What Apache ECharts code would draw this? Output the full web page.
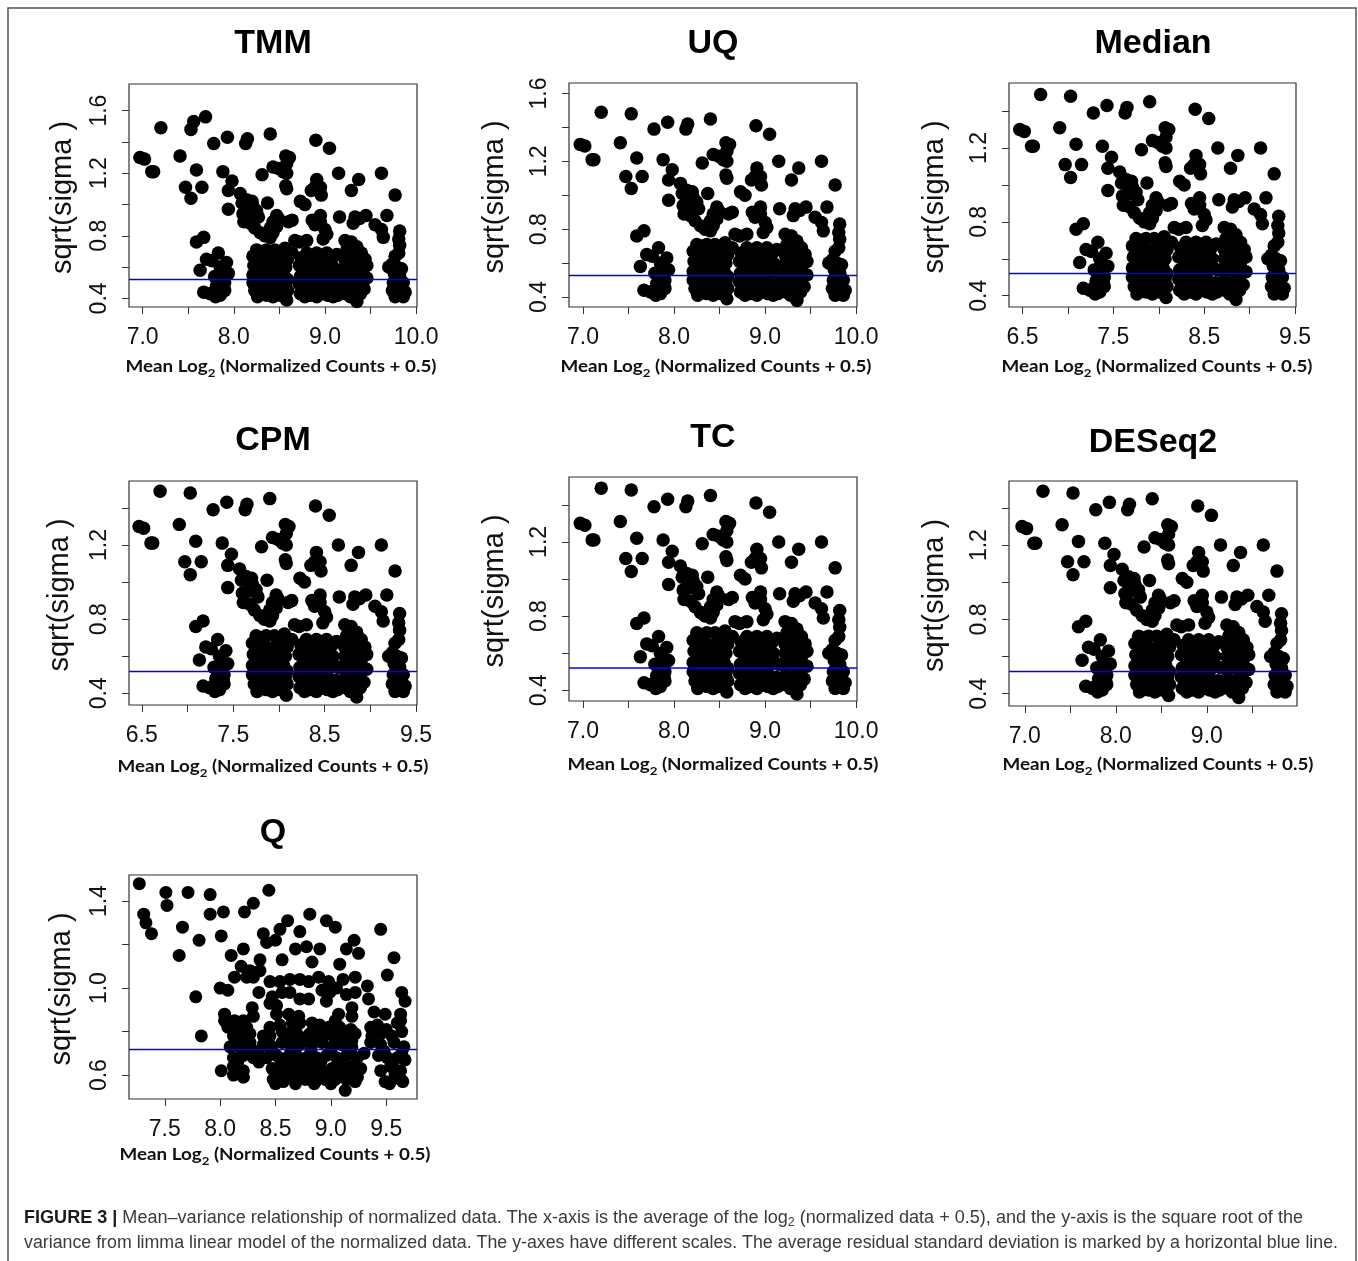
<!DOCTYPE html>
<html>
<head>
<meta charset="utf-8">
<script src="https://cdn.jsdelivr.net/npm/echarts@6/dist/echarts.min.js"></script>
<style>
  html, body { margin: 0; padding: 0; background: #fff; }
  #chart { width: 1358px; height: 1261px; }
</style>
</head>
<body>
<div id="chart"></div>
<script>
// ---- data ----
// shared pattern of UQ / TC / DESeq2 (x = mean log2, y = sqrt(sigma))
var uqPts = [
  [6.97,1.30],[7.02,1.29],[7.10,1.21],[7.12,1.21],[7.20,1.49],[7.41,1.31],[7.47,1.11],[7.53,1.04],[7.53,1.48],[7.59,1.22],
  [7.65,1.11],[7.78,1.39],[7.93,1.43],[7.88,1.21],[7.98,1.15],[7.94,1.09],[7.94,0.97],[8.07,1.07],[8.13,1.39],[8.15,1.42],
  [8.31,1.19],[8.40,1.45],[8.43,1.24],[8.49,1.23],[8.57,1.31],[8.61,1.30],[8.58,1.26],[8.54,1.21],[8.58,1.20],[8.57,1.12],
  [8.58,1.10],[8.90,1.41],[9.05,1.36],[9.15,1.20],[9.29,1.09],[9.37,1.16],[9.62,1.20],[9.77,1.06],[8.91,1.16],[8.89,1.11],
  [8.95,1.11],[8.96,1.06],[8.73,1.02],[8.78,1.00],[8.85,1.09],[8.37,1.01],
  [8.09,1.01],[8.14,1.03],[8.20,1.02],[8.21,0.99],[8.16,0.95],[8.10,0.94],[8.25,0.96],[8.27,0.92],[8.11,0.89],[8.18,0.88],
  [8.23,0.85],[8.29,0.82],[8.34,0.80],[8.40,0.79],[8.43,0.82],[8.47,0.86],[8.49,0.91],[8.43,0.89],[8.40,0.85],[8.47,0.93],
  [8.60,0.89],[8.64,0.90],[8.67,0.77],[8.72,0.76],[8.80,0.77],[8.86,0.90],[8.89,0.87],[8.95,0.89],[9.00,0.84],[9.02,0.81],
  [8.98,0.78],[8.95,0.93],[9.16,0.92],[9.33,0.92],[9.38,0.91],[9.45,0.93],[9.31,0.88],[9.55,0.87],[9.62,0.84],[9.64,0.79],
  [9.68,0.93],[9.82,0.83],[7.59,0.76],[7.67,0.79],[7.63,0.58],
  // cluster near 7.8
  [7.70,0.65],[7.76,0.64],[7.83,0.69],[7.85,0.60],[7.92,0.63],[7.94,0.56],[7.79,0.54],[7.85,0.55],[7.88,0.53],[7.81,0.48],
  [7.89,0.47],[7.78,0.44],[7.85,0.42],[7.90,0.45],[7.67,0.44],[7.74,0.43],[7.90,0.50],[7.83,0.51],[7.80,0.41],
  // cluster near 8.4
  [8.25,0.71],[8.31,0.70],[8.36,0.71],[8.45,0.71],[8.51,0.69],[8.56,0.72],[8.64,0.69],[8.59,0.65],
  [8.21,0.67],[8.28,0.65],[8.34,0.66],[8.40,0.64],[8.47,0.66],[8.54,0.64],
  [8.22,0.61],[8.27,0.59],[8.33,0.60],[8.39,0.59],[8.45,0.61],[8.51,0.59],[8.57,0.60],
  [8.21,0.55],[8.26,0.54],[8.32,0.55],[8.38,0.53],[8.44,0.55],[8.49,0.54],[8.55,0.55],[8.59,0.52],
  [8.21,0.50],[8.27,0.49],[8.33,0.50],[8.39,0.49],[8.45,0.50],[8.51,0.48],[8.57,0.49],
  [8.23,0.45],[8.29,0.44],[8.35,0.46],[8.41,0.44],[8.47,0.45],[8.53,0.44],[8.59,0.45],
  [8.26,0.41],[8.36,0.42],[8.43,0.41],[8.51,0.42],[8.58,0.39],
  // cluster near 8.9
  [8.74,0.66],[8.80,0.69],[8.86,0.66],[8.91,0.69],[8.97,0.67],[9.02,0.69],[9.08,0.66],[9.13,0.68],
  [8.72,0.61],[8.77,0.60],[8.82,0.62],[8.87,0.60],[8.93,0.62],[8.98,0.58],[9.04,0.61],[9.09,0.60],
  [8.73,0.54],[8.78,0.56],[8.82,0.52],[8.88,0.55],[8.93,0.54],[8.99,0.52],[9.04,0.53],[9.10,0.55],[9.15,0.54],
  [8.72,0.49],[8.76,0.47],[8.81,0.49],[8.86,0.45],[8.91,0.48],[8.96,0.47],[9.02,0.49],[9.07,0.44],[9.12,0.47],[9.16,0.45],
  [8.73,0.43],[8.78,0.41],[8.84,0.42],[8.91,0.41],[8.97,0.43],[9.03,0.42],[9.09,0.41],[9.14,0.42],
  // cluster near 9.3
  [9.22,0.77],[9.29,0.76],[9.35,0.73],[9.24,0.71],[9.30,0.70],[9.40,0.69],
  [9.22,0.65],[9.31,0.65],[9.37,0.64],[9.44,0.65],
  [9.22,0.60],[9.27,0.59],[9.33,0.59],[9.40,0.58],[9.46,0.61],
  [9.23,0.54],[9.29,0.54],[9.35,0.53],[9.41,0.54],[9.46,0.53],
  [9.22,0.48],[9.27,0.47],[9.33,0.47],[9.39,0.48],[9.43,0.46],
  [9.23,0.43],[9.28,0.41],[9.33,0.42],[9.35,0.38],[9.39,0.43],
  // cluster near 9.8
  [9.70,0.60],[9.74,0.62],[9.77,0.67],[9.81,0.69],[9.82,0.74],[9.81,0.78],
  [9.79,0.60],[9.84,0.59],[9.76,0.56],[9.82,0.54],[9.78,0.52],
  [9.75,0.50],[9.80,0.49],[9.86,0.50],[9.74,0.45],[9.79,0.46],[9.84,0.45],[9.88,0.44],[9.77,0.41],[9.82,0.42],[9.86,0.41]
];
// TMM has two extra high points
var tmmExtra = [[7.56,1.53],[7.69,1.56]];
var tmmPts = uqPts.concat(tmmExtra);

// Median / CPM pattern
var medianPts = [
  [6.47,1.30],[6.52,1.29],[6.60,1.21],[6.62,1.21],[6.70,1.49],[6.91,1.31],[6.97,1.11],[7.03,1.04],[7.03,1.48],[7.09,1.22],
  [7.15,1.11],[7.28,1.39],[7.43,1.43],[7.38,1.21],[7.48,1.15],[7.44,1.09],[7.44,0.97],[7.57,1.07],[7.63,1.39],[7.65,1.42],
  [7.81,1.19],[7.90,1.45],[7.93,1.24],[7.99,1.23],[8.07,1.31],[8.11,1.30],[8.08,1.26],[8.04,1.21],[8.08,1.20],[8.07,1.12],
  [8.08,1.10],[8.40,1.41],[8.55,1.36],[8.65,1.20],[8.79,1.09],[8.87,1.16],[9.12,1.20],[9.27,1.06],[8.41,1.16],[8.39,1.11],
  [8.45,1.11],[8.46,1.06],[8.23,1.02],[8.28,1.00],[8.35,1.09],[7.87,1.01],
  [7.59,1.01],[7.64,1.03],[7.70,1.02],[7.71,0.99],[7.66,0.95],[7.60,0.94],[7.75,0.96],[7.77,0.92],[7.61,0.89],[7.68,0.88],
  [7.73,0.85],[7.79,0.82],[7.84,0.80],[7.90,0.79],[7.93,0.82],[7.97,0.86],[7.99,0.91],[7.93,0.89],[7.90,0.85],[7.97,0.93],
  [8.10,0.89],[8.14,0.90],[8.17,0.77],[8.22,0.76],[8.30,0.77],[8.36,0.90],[8.39,0.87],[8.45,0.89],[8.50,0.84],[8.52,0.81],
  [8.48,0.78],[8.45,0.93],[8.66,0.92],[8.83,0.92],[8.88,0.91],[8.95,0.93],[8.81,0.88],[9.05,0.87],[9.12,0.84],[9.14,0.79],
  [9.18,0.93],[9.32,0.83],[7.09,0.76],[7.17,0.79],[7.13,0.58],
  [7.20,0.65],[7.26,0.64],[7.33,0.69],[7.35,0.60],[7.42,0.63],[7.44,0.56],[7.29,0.54],[7.35,0.55],[7.38,0.53],[7.31,0.48],
  [7.39,0.47],[7.28,0.44],[7.35,0.42],[7.40,0.45],[7.17,0.44],[7.24,0.43],[7.40,0.50],[7.33,0.51],[7.30,0.41],
  [7.75,0.71],[7.81,0.70],[7.86,0.71],[7.95,0.71],[8.01,0.69],[8.06,0.72],[8.14,0.69],[8.09,0.65],
  [7.71,0.67],[7.78,0.65],[7.84,0.66],[7.90,0.64],[7.97,0.66],[8.04,0.64],
  [7.72,0.61],[7.77,0.59],[7.83,0.60],[7.89,0.59],[7.95,0.61],[8.01,0.59],[8.07,0.60],
  [7.71,0.55],[7.76,0.54],[7.82,0.55],[7.88,0.53],[7.94,0.55],[7.99,0.54],[8.05,0.55],[8.09,0.52],
  [7.71,0.50],[7.77,0.49],[7.83,0.50],[7.89,0.49],[7.95,0.50],[8.01,0.48],[8.07,0.49],
  [7.73,0.45],[7.79,0.44],[7.85,0.46],[7.91,0.44],[7.97,0.45],[8.03,0.44],[8.09,0.45],
  [7.76,0.41],[7.86,0.42],[7.93,0.41],[8.01,0.42],[8.08,0.39],
  [8.24,0.66],[8.30,0.69],[8.36,0.66],[8.41,0.69],[8.47,0.67],[8.52,0.69],[8.58,0.66],[8.63,0.68],
  [8.22,0.61],[8.27,0.60],[8.32,0.62],[8.37,0.60],[8.43,0.62],[8.48,0.58],[8.54,0.61],[8.59,0.60],
  [8.23,0.54],[8.28,0.56],[8.32,0.52],[8.38,0.55],[8.43,0.54],[8.49,0.52],[8.54,0.53],[8.60,0.55],[8.65,0.54],
  [8.22,0.49],[8.26,0.47],[8.31,0.49],[8.36,0.45],[8.41,0.48],[8.46,0.47],[8.52,0.49],[8.57,0.44],[8.62,0.47],[8.66,0.45],
  [8.23,0.43],[8.28,0.41],[8.34,0.42],[8.41,0.41],[8.47,0.43],[8.53,0.42],[8.59,0.41],[8.64,0.42],
  [8.72,0.77],[8.79,0.76],[8.85,0.73],[8.74,0.71],[8.80,0.70],[8.90,0.69],
  [8.72,0.65],[8.81,0.65],[8.87,0.64],[8.94,0.65],
  [8.72,0.60],[8.77,0.59],[8.83,0.59],[8.90,0.58],[8.96,0.61],
  [8.73,0.54],[8.79,0.54],[8.85,0.53],[8.91,0.54],[8.96,0.53],
  [8.72,0.48],[8.77,0.47],[8.83,0.47],[8.89,0.48],[8.93,0.46],
  [8.73,0.43],[8.78,0.41],[8.83,0.42],[8.85,0.38],[8.89,0.43],
  [9.20,0.60],[9.24,0.62],[9.27,0.67],[9.31,0.69],[9.32,0.74],[9.31,0.78],
  [9.29,0.60],[9.34,0.59],[9.26,0.56],[9.32,0.54],[9.28,0.52],
  [9.25,0.50],[9.30,0.49],[9.36,0.50],[9.24,0.45],[9.29,0.46],[9.34,0.45],[9.38,0.44],[9.27,0.41],[9.32,0.42],[9.36,0.41]
];

// Q pattern
var qPts = [
  [7.27,1.48],[7.31,1.34],[7.33,1.30],[7.38,1.25],[7.51,1.44],[7.52,1.38],[7.63,1.15],[7.66,1.28],[7.71,1.44],[7.78,0.96],
  [7.81,1.22],[7.83,0.78],
  [7.91,1.43],[7.91,1.34],[8.03,1.35],[8.22,1.35],[8.30,1.39],[8.44,1.45],
  [8.01,1.24],[8.10,1.15],[8.19,1.10],[8.21,1.18],[8.39,1.25],[8.42,1.21],[8.50,1.22],[8.54,1.27],[8.61,1.31],[8.72,1.26],
  [8.81,1.34],[8.96,1.31],[9.04,1.28],
  [8.68,1.18],[8.78,1.19],[8.90,1.18],[8.56,1.13],[8.83,1.12],[9.21,1.22],[9.14,1.18],[9.25,1.16],[9.08,1.11],[9.45,1.27],
  [9.57,1.14],[9.51,1.06],
  [8.36,1.13],[8.27,1.08],[8.36,1.08],[8.13,1.05],[8.24,1.05],[8.30,1.05],[8.00,1.00],[8.07,0.99],[8.35,0.98],
  [8.45,1.03],[8.54,1.03],[8.63,1.04],[8.72,1.04],[8.80,1.03],[8.89,1.05],[8.98,1.03],[9.11,1.04],[9.22,1.05],[9.33,1.01],
  [9.64,0.98],[9.67,0.94],
  [8.47,0.96],[8.56,0.98],[8.45,0.93],[8.63,0.98],[8.72,0.95],[8.80,0.95],[8.92,0.99],[8.99,0.98],[8.96,0.94],[9.05,1.00],
  [9.14,0.97],[9.22,0.98],[9.34,0.95],[9.19,0.91],
  [8.04,0.88],[8.29,0.91],[8.51,0.92],[8.04,0.85],[8.13,0.85],[8.21,0.85],[8.30,0.87],[8.51,0.88],[8.62,0.88],[8.71,0.87],
  [9.07,0.88],[9.19,0.87],[9.39,0.89],[9.49,0.88],[9.63,0.88],
  [8.07,0.82],[8.15,0.81],[8.24,0.82],[8.45,0.82],[8.54,0.83],[8.65,0.84],[8.72,0.84],[8.83,0.84],[8.90,0.83],[8.98,0.82],
  [9.08,0.82],[9.18,0.81],[9.22,0.79],[9.36,0.82],[9.42,0.83],[9.60,0.84],[9.63,0.85],
  [8.12,0.78],[8.19,0.78],[8.27,0.79],[8.39,0.78],[8.45,0.78],[8.56,0.80],[8.62,0.79],[8.71,0.78],[8.81,0.79],[8.87,0.78],
  [8.95,0.79],[9.02,0.78],[9.11,0.78],[9.19,0.76],[9.37,0.78],[9.45,0.79],[9.55,0.78],[9.64,0.80],[9.36,0.75],
  [8.09,0.73],[8.18,0.73],[8.27,0.75],[8.39,0.74],[8.47,0.73],[8.56,0.75],[8.63,0.75],[8.72,0.74],[8.83,0.74],[8.92,0.75],
  [9.01,0.73],[9.10,0.74],[9.19,0.73],[9.45,0.74],[9.57,0.75],[9.66,0.73],[9.30,0.70],
  [8.12,0.68],[8.21,0.69],[8.30,0.68],[8.42,0.68],[8.51,0.69],[8.60,0.68],[8.69,0.69],[8.78,0.68],[8.87,0.68],[8.96,0.69],
  [9.05,0.68],[9.14,0.69],[9.24,0.68],[9.43,0.69],[9.51,0.68],[9.60,0.68],[9.67,0.67],
  [8.01,0.62],[8.12,0.64],[8.21,0.62],[8.47,0.63],[8.56,0.62],[8.65,0.64],[8.74,0.63],[8.83,0.64],[8.92,0.62],[9.01,0.63],
  [9.10,0.62],[9.19,0.64],[9.27,0.63],[9.45,0.62],[9.54,0.64],[9.63,0.62],
  [8.12,0.60],[8.21,0.59],[8.48,0.58],[8.57,0.57],[8.66,0.59],[8.77,0.58],[8.86,0.57],[8.95,0.58],[9.04,0.58],[9.14,0.58],
  [9.24,0.59],[9.49,0.57],[9.63,0.58],
  [8.50,0.56],[8.68,0.56],[8.85,0.56],[9.00,0.56],[9.22,0.57],[9.53,0.56],[9.65,0.57],[9.13,0.53],
  [8.16,0.66],[8.26,0.71],[8.35,0.66],[8.46,0.71],[8.55,0.66],[8.64,0.71],[8.73,0.66],[8.82,0.71],[8.91,0.66],[9.00,0.71],
  [9.09,0.66],[9.18,0.70],[9.48,0.71],[9.56,0.66],[9.64,0.70],
  [8.52,0.60],[8.61,0.61],[8.70,0.60],[8.79,0.61],[8.88,0.60],[8.97,0.61],[9.06,0.60],[9.16,0.61],[9.58,0.60],
  [8.60,0.77],[8.77,0.76],[8.92,0.80],[9.06,0.76],[9.50,0.81],[8.68,0.81],[8.86,0.81],[9.04,0.85],[8.16,0.75],[8.34,0.71]
];

// average residual standard deviation (blue line), per panel
var blueLines = { TMM: 0.523, UQ: 0.525, Median: 0.519, CPM: 0.519, TC: 0.522, DESeq2: 0.520, Q: 0.724 };

// tick positions and labels
var xTicks7 = [7, 7.5, 8, 8.5, 9, 9.5, 10],   xLabels7 = [7, 8, 9, 10];
var xTicks65 = [6.5, 7, 7.5, 8, 8.5, 9, 9.5], xLabels65 = [6.5, 7.5, 8.5, 9.5];
var xTicksD = [7, 7.5, 8, 8.5, 9, 9.5],       xLabelsD = [7, 8, 9];
var xTicksQ = [7.5, 8, 8.5, 9, 9.5],          xLabelsQ = [7.5, 8, 8.5, 9, 9.5];
var yTicks16 = [0.4, 0.6, 0.8, 1.0, 1.2, 1.4, 1.6], yLabels16 = [0.4, 0.8, 1.2, 1.6];
var yTicks14 = [0.4, 0.6, 0.8, 1.0, 1.2, 1.4],      yLabels14 = [0.4, 0.8, 1.2];
var yTicksQ = [0.6, 0.8, 1.0, 1.2, 1.4],            yLabelsQ = [0.6, 1.0, 1.4];

// ---- layout of the seven panels ----
var panels = [
  { name: 'TMM',    pts: tmmPts,    box: [129, 84, 288, 223],  x: [6.85, 10.01],  y: [0.345, 1.77],  xt: xTicks7,  xl: xLabels7,  yt: yTicks16, yl: yLabels16, title: [273, 43],   yName: 63,  xName: [281, 367] },
  { name: 'UQ',     pts: uqPts,     box: [569, 83, 288, 224],  x: [6.846, 10.01], y: [0.341, 1.662], xt: xTicks7,  xl: xLabels7,  yt: yTicks16, yl: yLabels16, title: [713, 43],   yName: 495, xName: [716, 367] },
  { name: 'Median', pts: medianPts, box: [1009, 83, 287, 224], x: [6.352, 9.51],  y: [0.339, 1.552], xt: xTicks65, xl: xLabels65, yt: yTicks14, yl: yLabels14, title: [1153, 43],  yName: 935, xName: [1157, 367] },
  { name: 'CPM',    pts: medianPts, box: [129, 481, 288, 224], x: [6.36, 9.51],   y: [0.337, 1.545], xt: xTicks65, xl: xLabels65, yt: yTicks14, yl: yLabels14, title: [273, 440],  yName: 60,  xName: [273, 767] },
  { name: 'TC',     pts: uqPts,     box: [569, 477, 288, 224], x: [6.846, 10.01], y: [0.342, 1.55],  xt: xTicks7,  xl: xLabels7,  yt: yTicks14, yl: yLabels14, title: [713, 437],  yName: 495, xName: [723, 765] },
  { name: 'DESeq2', pts: uqPts,     box: [1009, 481, 288, 225],x: [6.827, 9.99],  y: [0.334, 1.545], xt: xTicksD,  xl: xLabelsD,  yt: yTicks14, yl: yLabels14, title: [1153, 442], yName: 935, xName: [1158, 765] },
  { name: 'Q',      pts: qPts,      box: [129, 875, 288, 224], x: [7.177, 9.778], y: [0.49, 1.52],   xt: xTicksQ,  xl: xLabelsQ,  yt: yTicksQ,  yl: yLabelsQ,  title: [273, 832],  yName: 62,  xName: [275, 1155] }
];

// text width helper so the narrow fonts of the figure can be matched
var mctx = document.createElement('canvas').getContext('2d');
function textWidth(str, font) { mctx.font = font; return mctx.measureText(str).width; }

var tickFont = 'Liberation Sans, Arial, sans-serif';
var grids = [], xAxes = [], yAxes = [], series = [], graphics = [];

var xnW = textWidth('Mean Log', 'bold 17px Lato') + textWidth('2', 'bold 12px Lato') +
          textWidth(' (Normalized Counts + 0.5)', 'bold 17px Lato');
var xnScale = 311 / xnW;

panels.forEach(function (p, i) {
  grids.push({
    left: p.box[0], top: p.box[1], width: p.box[2], height: p.box[3],
    show: true, borderColor: '#333', borderWidth: 1.2, backgroundColor: 'transparent'
  });
  xAxes.push({
    type: 'value', gridIndex: i, min: p.x[0], max: p.x[1],
    axisLine: { show: false }, splitLine: { show: false },
    axisTick: { show: true, length: 7, lineStyle: { color: '#333', width: 1 }, customValues: p.xt },
    axisLabel: {
      customValues: p.xl, margin: 19, fontSize: 23, fontFamily: tickFont, color: '#111',
      formatter: function (v) { return v.toFixed(1); }
    }
  });
  yAxes.push({
    type: 'value', gridIndex: i, min: p.y[0], max: p.y[1],
    axisLine: { show: false }, splitLine: { show: false },
    axisTick: { show: true, length: 7, lineStyle: { color: '#333', width: 1 }, customValues: p.yt },
    axisLabel: {
      customValues: p.yl, rotate: 90, margin: 18, fontSize: 23, fontFamily: tickFont, color: '#111',
      formatter: function (v) { return v.toFixed(1); }
    }
  });
  series.push({
    type: 'scatter', xAxisIndex: i, yAxisIndex: i, data: p.pts,
    symbolSize: p.name === 'Q' ? 13 : 13.5,
    itemStyle: { color: '#000', opacity: 1 },
    silent: true,
    markLine: {
      silent: true, symbol: 'none', z: 5,
      label: { show: false },
      lineStyle: { color: '#0000ff', width: p.name === 'TC' ? 2 : 1.4, type: 'solid', opacity: p.name === 'TC' ? 0.75 : 1 },
      data: [{ yAxis: blueLines[p.name] }]
    }
  });

  // panel title
  graphics.push({
    type: 'text', x: p.title[0], y: p.title[1] + 1,
    style: { text: p.name, fontSize: 34, fontWeight: 'bold', fontFamily: tickFont, fill: '#000',
             align: 'center', verticalAlign: 'middle', textAlign: 'center', textVerticalAlign: 'middle' }
  });
  // y-axis name
  graphics.push({
    type: 'text', x: p.yName, y: p.box[1] + p.box[3] / 2 + 2, rotation: Math.PI / 2,
    style: { text: 'sqrt(sigma )', fontSize: 29, fontFamily: tickFont, fill: '#111',
             align: 'center', verticalAlign: 'middle', textAlign: 'center', textVerticalAlign: 'middle' }
  });
  // x-axis name with subscript
  graphics.push({
    type: 'text', x: p.xName[0], y: p.xName[1], scaleX: xnScale,
    style: {
      text: 'Mean Log{s|2} (Normalized Counts + 0.5)',
      fontSize: 17, fontWeight: 'bold', fontFamily: 'Lato', fill: '#111', lineHeight: 25,
      align: 'center', verticalAlign: 'middle', textAlign: 'center', textVerticalAlign: 'middle',
      rich: { s: { fontSize: 12, fontWeight: 'bold', fontFamily: 'Lato', fill: '#111', lineHeight: 12, verticalAlign: 'bottom' } }
    }
  });
});

// caption
var capFont = '17.5px Liberation Sans';
var cap1a = ' Mean\u2013variance relationship of normalized data. The x-axis is the average of the log';
var cap1b = ' (normalized data + 0.5), and the y-axis is the square root of the';
var cap2 = 'variance from limma linear model of the normalized data. The y-axes have different scales. The average residual standard deviation is marked by a horizontal blue line.';
var w1 = textWidth('FIGURE 3 |', 'bold 17.5px Liberation Sans') + textWidth(cap1a, capFont) +
         textWidth('2', '12px Liberation Sans') + textWidth(cap1b, capFont);
var w2 = textWidth(cap2, capFont);

graphics.push({
  type: 'text', x: 24, y: 1218, scaleX: 1279 / w1,
  style: {
    text: '{b|FIGURE 3 |}' + cap1a + '{s|2}' + cap1b,
    fontSize: 17.5, fontFamily: 'Liberation Sans', fill: '#3a3a3a', lineHeight: 22,
    align: 'left', verticalAlign: 'middle', textAlign: 'left', textVerticalAlign: 'middle',
    rich: {
      b: { fontSize: 17.5, fontWeight: 'bold', fontFamily: 'Liberation Sans', fill: '#1a1a1a', lineHeight: 22 },
      s: { fontSize: 12, fontFamily: 'Liberation Sans', fill: '#3a3a3a', lineHeight: 11, verticalAlign: 'bottom' }
    }
  }
});
graphics.push({
  type: 'text', x: 24, y: 1243, scaleX: 1314 / w2,
  style: { text: cap2, fontSize: 17.5, fontFamily: 'Liberation Sans', fill: '#3a3a3a',
           align: 'left', verticalAlign: 'middle', textAlign: 'left', textVerticalAlign: 'middle' }
});
// figure frame
graphics.push({
  type: 'rect', shape: { x: 8, y: 8, width: 1348, height: 1300 },
  style: { fill: 'none', stroke: '#555', lineWidth: 1.5 }, silent: true
});

var chart = echarts.init(document.getElementById('chart'));
chart.setOption({
  backgroundColor: '#fff',
  animation: false,
  grid: grids,
  xAxis: xAxes,
  yAxis: yAxes,
  series: series,
  graphic: { elements: graphics }
});
</script>
</body>
</html>
